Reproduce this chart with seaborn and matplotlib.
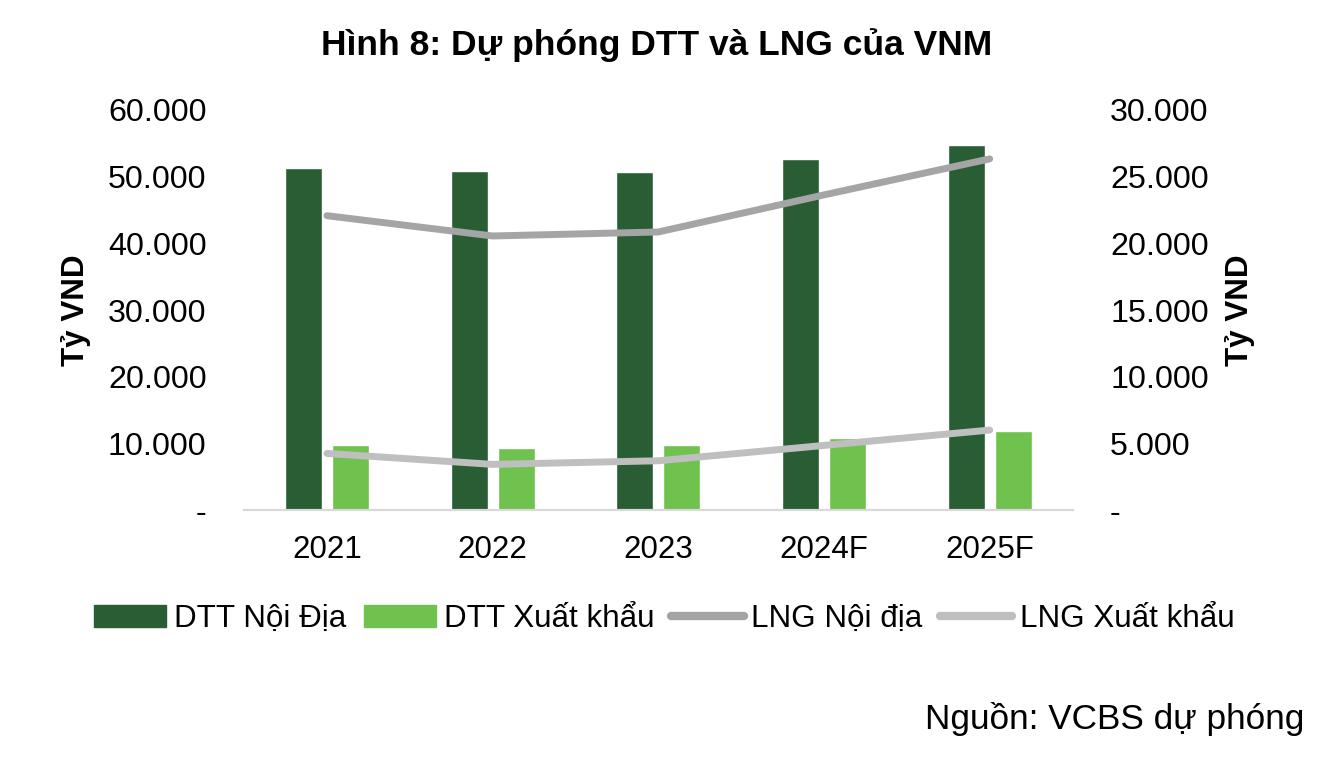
import pandas as pd
import seaborn as sns
import matplotlib.pyplot as plt
from matplotlib.ticker import FuncFormatter, MultipleLocator

years = ["2021", "2022", "2023", "2024F", "2025F"]
dtt_noi_dia = [51240, 50800, 50650, 52600, 54700]
dtt_xuat_khau = [9750, 9250, 9750, 10750, 11800]
lng_noi_dia = [22070, 20550, 20850, 23630, 26330]
lng_xuat_khau = [4250, 3430, 3700, 4850, 6000]

bar_names = ["DTT Nội Địa", "DTT Xuất khẩu"]
line_names = ["LNG Nội địa", "LNG Xuất khẩu"]
bar_colors = ["#295E34", "#70C24E"]
line_colors = ["#A5A5A5", "#BFBFBF"]

bars = pd.DataFrame({
    "year": years * 2,
    "value": dtt_noi_dia + dtt_xuat_khau,
    "series": [bar_names[0]] * len(years) + [bar_names[1]] * len(years),
})
lines = pd.DataFrame({
    "year": years * 2,
    "value": lng_noi_dia + lng_xuat_khau,
    "series": [line_names[0]] * len(years) + [line_names[1]] * len(years),
})

sns.set_style("white")
plt.rcParams["font.family"] = ["Liberation Sans", "DejaVu Sans"]
plt.rcParams["text.color"] = "black"
plt.rcParams["xtick.color"] = "black"
plt.rcParams["ytick.color"] = "black"
plt.rcParams["axes.labelcolor"] = "black"

fig = plt.figure(figsize=(13.34, 7.58), dpi=100)
ax = fig.add_axes([0.183, 0.327, 0.621, 0.528])

sns.barplot(data=bars, x="year", y="value", hue="series", order=years,
            palette=bar_colors, saturation=1, width=0.566, gap=0.21,
            ax=ax, legend=False)

ax2 = ax.twinx()
for name, color in zip(line_names, line_colors):
    sub = lines[lines["series"] == name]
    sns.lineplot(data=sub, x="year", y="value", color=color, lw=5,
                 solid_capstyle="round", ax=ax2, legend=False)

ax.set_xlim(-0.5, len(years) - 0.5)
ax.set_ylim(0, 60000)
ax2.set_ylim(0, 30000)
ax.yaxis.set_major_locator(MultipleLocator(10000))
ax2.yaxis.set_major_locator(MultipleLocator(5000))


def vn_fmt(v, pos):
    if v == 0:
        return "-"
    return f"{int(v):,}".replace(",", ".")


ax.yaxis.set_major_formatter(FuncFormatter(vn_fmt))
ax2.yaxis.set_major_formatter(FuncFormatter(vn_fmt))

for a in (ax, ax2):
    for side in ["top", "left", "right"]:
        a.spines[side].set_visible(False)
    a.spines["bottom"].set_color("#D9D9D9")
    a.spines["bottom"].set_linewidth(1.5)
    a.set_xlabel("")
ax.tick_params(axis="y", length=0, pad=27, labelsize=23.2)
ax2.tick_params(axis="y", length=0, pad=27, labelsize=23.2)
ax.tick_params(axis="x", length=0, pad=18, labelsize=22.5)

ax.set_ylabel("Tỷ VND", fontsize=22.6, fontweight="bold", labelpad=12)
ax2.set_ylabel("Tỷ VND", fontsize=22.6, fontweight="bold", labelpad=12)

fig.text(0.492, 0.94, "Hình 8: Dự phóng DTT và LNG của VNM",
         ha="center", va="center", fontsize=25.5, fontweight="bold")

handles = [plt.Rectangle((0, 0), 1, 1, color=c) for c in bar_colors]
handles += [plt.Line2D([], [], color=c, lw=6, solid_capstyle="round") for c in line_colors]
fig.legend(handles, bar_names + line_names, loc="center", bbox_to_anchor=(0.498, 0.183),
           ncol=4, frameon=False, fontsize=22.6, handlelength=2.3, handletextpad=0.25,
           columnspacing=0.55)

fig.text(0.978, 0.052, "Nguồn: VCBS dự phóng", ha="right", va="center", fontsize=25.3)

fig.savefig("out.png", dpi=100)
